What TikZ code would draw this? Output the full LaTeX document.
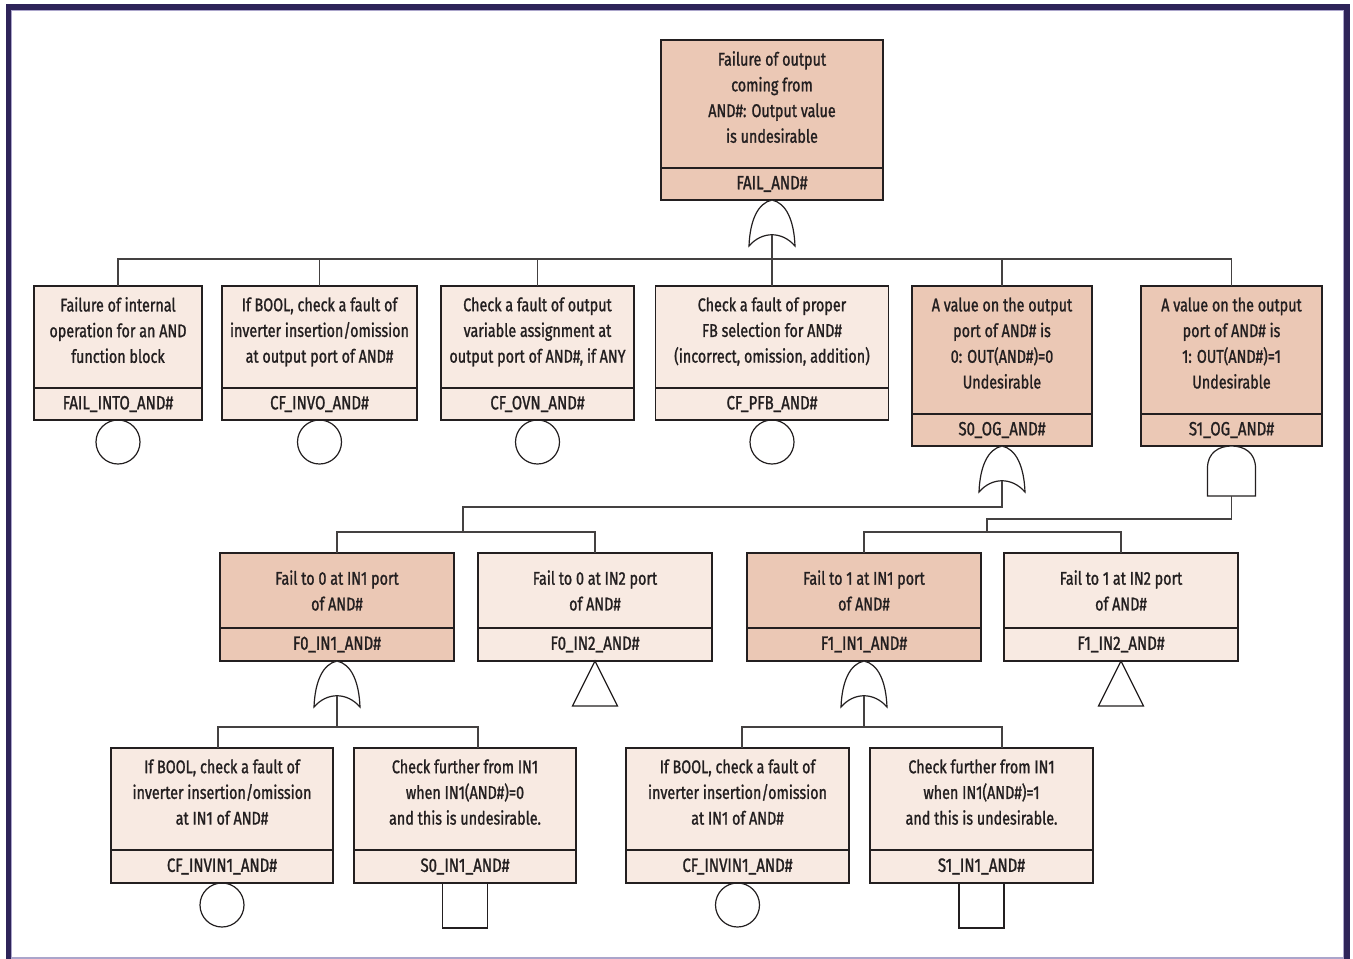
\documentclass[tikz,border=0pt]{standalone}
\usepackage{fontspec}
\setmainfont{Fira Sans}[FakeStretch=0.78, FakeBold=1.2]
\usepackage{tikz}
\usetikzlibrary{positioning}

\definecolor{framenavy}{HTML}{2E2459}
\definecolor{framelav}{HTML}{ABA5CB}
\definecolor{evdark}{HTML}{EBC8B5}
\definecolor{evlight}{HTML}{F8EAE2}
\definecolor{ink}{HTML}{231F20}

\begin{document}
\begin{tikzpicture}
 [ x=1pt, y=-1pt
 , font=\fontsize{18.4}{25.7}\selectfont
 , every node/.style={text=ink}
 , wire/.style={draw=ink!85, line width=1.3pt}
 , gateline/.style={draw=ink, line width=1.2pt, fill=white}
 , desc/.style={draw=ink, line width=1.3pt, align=center, inner sep=0pt, outer sep=0pt}
 , raised/.style={text depth=14pt}
 , idcell/.style={desc, minimum height=32pt, font=\fontsize{19.2}{25.7}\selectfont}
 , darkfill/.style={fill=evdark}
 , lightfill/.style={fill=evlight}
 , basicev/.style={circle, draw=ink, line width=1.2pt, minimum size=44pt, inner sep=0pt, outer sep=0pt}
 , undevev/.style={rectangle, draw=ink, line width=1.2pt, minimum size=45pt, inner sep=0pt, outer sep=0pt}
 , or gate/.pic={
     \draw[gateline] (0,0) .. controls (-14,3) and (-22,20) .. (-23,46)
       .. controls (-10,31) and (10,31) .. (23,46)
       .. controls (22,20) and (14,3) .. (0,0) -- cycle;
     \coordinate (-out) at (0,35);
   }
 , and gate/.pic={
     \draw[gateline] (-24,50) -- (-24,22) .. controls (-24,7) and (-13,0) .. (0,0)
       .. controls (13,0) and (24,7) .. (24,22) -- (24,50) -- cycle;
     \coordinate (-out) at (0,50);
   }
 ]
  \useasboundingbox (0,0) rectangle (1353,959);
  \fill[white] (0,0) rectangle (1353,959);
  % frame
  \fill[framenavy] (6,4) rectangle (1350,9.5);
  \fill[framenavy] (6,4) rectangle (10.5,959);
  \fill[framenavy] (1344,4) rectangle (1350,959);
  \draw[framelav, line width=1pt] (11,959) -- (11,10) -- (1343.5,10) -- (1343.5,959);
  \draw[framelav, line width=2pt] (10.5,958) -- (1344,958);

  % top event
  \node[desc, darkfill, raised, minimum width=222pt, minimum height=128pt] (top) at (772,104)
    {Failure of output\\coming from\\AND\#: Output value\\is undesirable};
  \node[idcell, darkfill, minimum width=222pt, below=0pt of top] (topid) {FAIL\_AND\#};
  \pic (g0) at (topid.south) {or gate};

  % first level
  \node[desc, lightfill, raised, minimum width=168pt, minimum height=102pt] (ev1) at (118,337)
    {Failure of internal\\operation for an AND\\function block};
  \node[idcell, lightfill, minimum width=168pt, below=0pt of ev1] (ev1id) {FAIL\_INTO\_AND\#};
  \node[basicev, below=0pt of ev1id] (ev1b) {};

  \node[desc, lightfill, raised, minimum width=195pt, minimum height=102pt] (ev2) at (319.5,337)
    {If BOOL, check a fault of\\inverter insertion/omission\\at output port of AND\#};
  \node[idcell, lightfill, minimum width=195pt, below=0pt of ev2] (ev2id) {CF\_INVO\_AND\#};
  \node[basicev, below=0pt of ev2id] (ev2b) {};

  \node[desc, lightfill, raised, minimum width=193pt, minimum height=102pt] (ev3) at (537.5,337)
    {Check a fault of output\\variable assignment at\\output port of AND\#, if ANY};
  \node[idcell, lightfill, minimum width=193pt, below=0pt of ev3] (ev3id) {CF\_OVN\_AND\#};
  \node[basicev, below=0pt of ev3id] (ev3b) {};

  \node[desc, lightfill, raised, minimum width=233pt, minimum height=102pt] (ev4) at (772,337)
    {Check a fault of proper\\FB selection for AND\#\\(incorrect, omission, addition)};
  \node[idcell, lightfill, minimum width=233pt, below=0pt of ev4] (ev4id) {CF\_PFB\_AND\#};
  \node[basicev, below=0pt of ev4id] (ev4b) {};

  \node[desc, darkfill, raised, minimum width=180pt, minimum height=128pt] (ev5) at (1002,350)
    {A value on the output\\port of AND\# is\\0: OUT(AND\#)=0\\Undesirable};
  \node[idcell, darkfill, minimum width=180pt, below=0pt of ev5] (ev5id) {S0\_OG\_AND\#};
  \pic (g1) at (ev5id.south) {or gate};

  \node[desc, darkfill, raised, minimum width=181pt, minimum height=128pt] (ev6) at (1231.5,350)
    {A value on the output\\port of AND\# is\\1: OUT(AND\#)=1\\Undesirable};
  \node[idcell, darkfill, minimum width=181pt, below=0pt of ev6] (ev6id) {S1\_OG\_AND\#};
  \pic (g2) at (ev6id.south) {and gate};

  \foreach \n in {ev1,ev2,ev3,ev4,ev5,ev6}
    \draw[wire] (g0-out) -- ++(0,24) -| (\n.north);

  % second level
  \node[desc, darkfill, minimum width=234pt, minimum height=75pt] (f0a) at (337,590.5)
    {Fail to 0 at IN1 port\\of AND\#};
  \node[idcell, darkfill, minimum width=234pt, minimum height=33pt, below=0pt of f0a] (f0aid) {F0\_IN1\_AND\#};
  \pic (g3) at (f0aid.south) {or gate};

  \node[desc, lightfill, minimum width=234pt, minimum height=75pt] (f0b) at (595,590.5)
    {Fail to 0 at IN2 port\\of AND\#};
  \node[idcell, lightfill, minimum width=234pt, minimum height=33pt, below=0pt of f0b] (f0bid) {F0\_IN2\_AND\#};
  \draw[gateline] (f0bid.south) -- ++(22.5,45) -- ++(-45,0) -- cycle;

  \node[desc, darkfill, minimum width=234pt, minimum height=75pt] (f1a) at (864,590.5)
    {Fail to 1 at IN1 port\\of AND\#};
  \node[idcell, darkfill, minimum width=234pt, minimum height=33pt, below=0pt of f1a] (f1aid) {F1\_IN1\_AND\#};
  \pic (g4) at (f1aid.south) {or gate};

  \node[desc, lightfill, minimum width=234pt, minimum height=75pt] (f1b) at (1121,590.5)
    {Fail to 1 at IN2 port\\of AND\#};
  \node[idcell, lightfill, minimum width=234pt, minimum height=33pt, below=0pt of f1b] (f1bid) {F1\_IN2\_AND\#};
  \draw[gateline] (f1bid.south) -- ++(22.5,45) -- ++(-45,0) -- cycle;

  \coordinate (j0) at (463,532);
  \coordinate (j1) at (987,532);
  \draw[wire] (g1-out) -- ++(0,26) -| (j0);
  \draw[wire] (f0a.north) |- (j0) -| (f0b.north);
  \draw[wire] (g2-out) -- ++(0,23) -| (j1);
  \draw[wire] (f1a.north) |- (j1) -| (f1b.north);

  % third level
  \node[desc, lightfill, raised, minimum width=222pt, minimum height=102pt] (c0a) at (222,799)
    {If BOOL, check a fault of\\inverter insertion/omission\\at IN1 of AND\#};
  \node[idcell, lightfill, minimum width=222pt, minimum height=33pt, below=0pt of c0a] (c0aid) {CF\_INVIN1\_AND\#};
  \node[basicev, below=0pt of c0aid] (c0ab) {};

  \node[desc, lightfill, raised, minimum width=222pt, minimum height=102pt] (c0b) at (465,799)
    {Check further from IN1\\when IN1(AND\#)=0\\and this is undesirable.};
  \node[idcell, lightfill, minimum width=222pt, minimum height=33pt, below=0pt of c0b] (c0bid) {S0\_IN1\_AND\#};
  \node[undevev, below=0pt of c0bid] (c0bb) {};

  \node[desc, lightfill, raised, minimum width=223pt, minimum height=102pt] (c1a) at (737.5,799)
    {If BOOL, check a fault of\\inverter insertion/omission\\at IN1 of AND\#};
  \node[idcell, lightfill, minimum width=223pt, minimum height=33pt, below=0pt of c1a] (c1aid) {CF\_INVIN1\_AND\#};
  \node[basicev, below=0pt of c1aid] (c1ab) {};

  \node[desc, lightfill, raised, minimum width=223pt, minimum height=102pt] (c1b) at (981.5,799)
    {Check further from IN1\\when IN1(AND\#)=1\\and this is undesirable.};
  \node[idcell, lightfill, minimum width=223pt, minimum height=33pt, below=0pt of c1b] (c1bid) {S1\_IN1\_AND\#};
  \node[undevev, below=0pt of c1bid] (c1bb) {};

  \draw[wire] (g3-out) -- ++(0,31) -| ([xshift=-4pt]c0a.north);
  \draw[wire] (g3-out) -- ++(0,31) -| ([xshift=13pt]c0b.north);
  \draw[wire] (g4-out) -- ++(0,31) -| ([xshift=4.5pt]c1a.north);
  \draw[wire] (g4-out) -- ++(0,31) -| ([xshift=20.5pt]c1b.north);
\end{tikzpicture}
\end{document}
